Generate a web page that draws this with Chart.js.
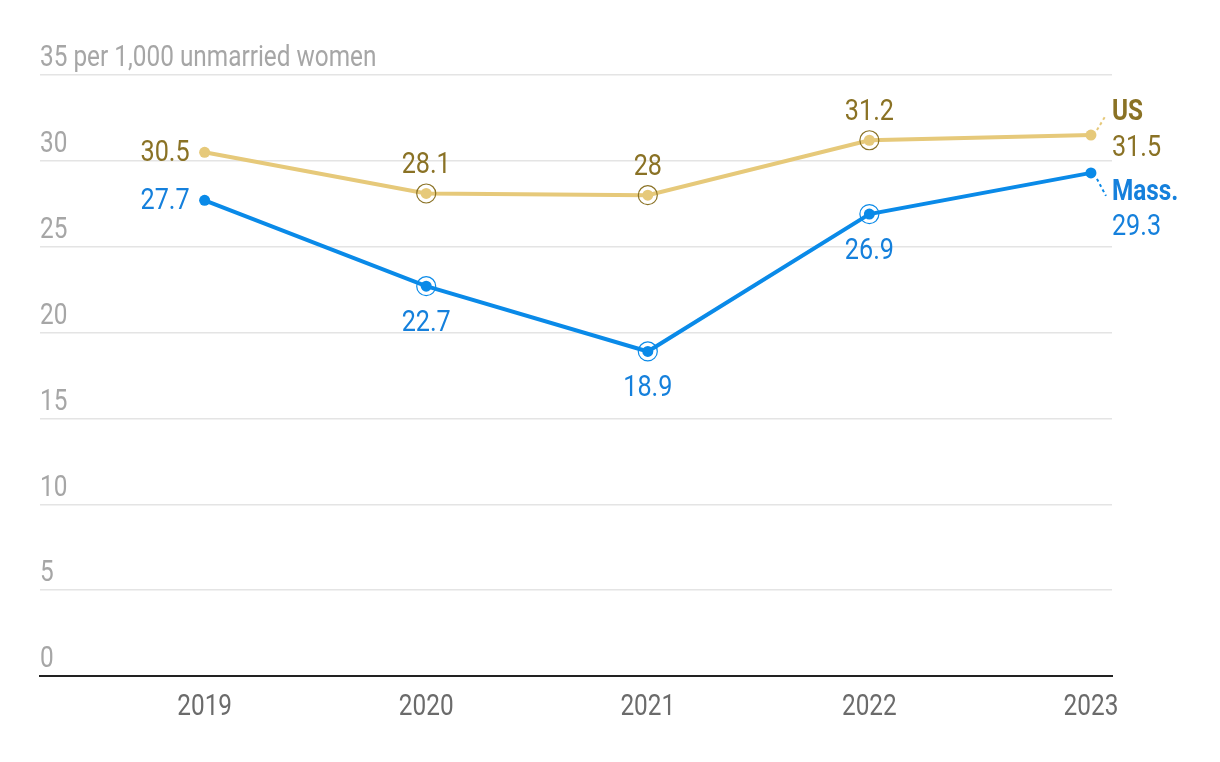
<!DOCTYPE html>
<html>
<head>
<meta charset="utf-8">
<script src="https://cdn.jsdelivr.net/npm/chart.js@4.4.1/dist/chart.umd.min.js"></script>
<style>
  html, body { margin: 0; padding: 0; background: #fff; }
  #wrap { width: 1220px; height: 762px; position: relative; }
</style>
</head>
<body>
<div id="wrap"><canvas id="chart"></canvas></div>
<script>
// datos
const years = [2019, 2020, 2021, 2022, 2023];
const usValues = [30.5, 28.1, 28, 31.2, 31.5];
const massValues = [27.7, 22.7, 18.9, 26.9, 29.3];
const yTicks = [0, 5, 10, 15, 20, 25, 30, 35];
const seriesNames = ['US', 'Mass.'];
const yTitle = 'per 1,000 unmarried women';

const FONT = "Roboto, 'Noto Sans', sans-serif";
const SX = 0.84; // estrechar el texto (fuente condensada en el original)
const US_LINE = '#e6c97a', US_TEXT = '#8a7225';
const MA_LINE = '#0a8ae8', MA_TEXT = '#1580dc';

const toPoints = vals => years.map((y, i) => ({ x: y, y: vals[i] }));
// solo los puntos intermedios llevan anillo
const ringPoints = vals => years.map((y, i) => ({ x: y, y: (i > 0 && i < years.length - 1) ? vals[i] : null }));

function drawText(ctx, txt, x, y, align, font, color) {
    ctx.save();
    ctx.font = font;
    ctx.fillStyle = color;
    ctx.textAlign = align;
    ctx.textBaseline = 'middle';
    ctx.translate(x, y);
    ctx.scale(SX, 1);
    ctx.fillText(txt, 0, 0);
    ctx.restore();
}

// etiquetas de los ejes, dibujadas con las escalas de Chart.js
const axisText = {
    id: 'axisText',
    afterDraw(chart) {
        const { ctx, chartArea, scales } = chart;
        scales.y.ticks.forEach(t => {
            const y = scales.y.getPixelForValue(t.value);
            const txt = t.value === 35 ? `35 ${yTitle}` : String(t.value);
            drawText(ctx, txt, chartArea.left, y - 16, 'left', `29px ${FONT}`, '#a6a6a6');
        });
        scales.x.ticks.forEach(t => {
            const x = scales.x.getPixelForValue(t.value);
            drawText(ctx, String(t.value), x, chartArea.bottom + 32, 'center', `29px ${FONT}`, '#6b6b6b');
        });
    }
};

const labelsPlugin = {
    id: 'labels',
    afterDatasetsDraw(chart) {
        const ctx = chart.ctx;
        const groups = [
            { ds: 0, vals: usValues, color: US_TEXT, line: US_LINE, name: seriesNames[0], up: true },
            { ds: 1, vals: massValues, color: MA_TEXT, line: MA_LINE, name: seriesNames[1], up: false }
        ];
        const f = `30px ${FONT}`;
        groups.forEach(g => {
            const pts = chart.getDatasetMeta(g.ds).data;
            pts.forEach((p, i) => {
                const txt = String(g.vals[i]);
                if (i === 0) {
                    drawText(ctx, txt, p.x - 15, p.y + 1, 'right', f, g.color);
                } else if (i === pts.length - 1) {
                    // línea guía punteada
                    ctx.save();
                    ctx.strokeStyle = g.line;
                    ctx.lineWidth = 2;
                    ctx.setLineDash([3, 3]);
                    ctx.beginPath();
                    ctx.moveTo(p.x + 6, p.y + (g.up ? -5 : 6));
                    ctx.lineTo(p.x + 15, p.y + (g.up ? -20 : 23));
                    ctx.stroke();
                    ctx.restore();
                    const nameY = g.up ? p.y - 22 : p.y + 20;
                    drawText(ctx, g.name, p.x + 21, nameY, 'left', `bold 29px ${FONT}`, g.color);
                    drawText(ctx, txt, p.x + 21, nameY + 35, 'left', f, g.color);
                } else {
                    drawText(ctx, txt, p.x, g.up ? p.y - 28 : p.y + 37, 'center', f, g.color);
                }
            });
        });
    }
};

new Chart(document.getElementById('chart'), {
    type: 'line',
    data: {
        datasets: [
            {
                label: seriesNames[0],
                data: toPoints(usValues),
                borderColor: US_LINE,
                backgroundColor: US_LINE,
                borderWidth: 4,
                pointRadius: 5.5,
                pointBorderWidth: 0,
                order: 1
            },
            {
                label: seriesNames[1],
                data: toPoints(massValues),
                borderColor: MA_LINE,
                backgroundColor: MA_LINE,
                borderWidth: 4,
                pointRadius: 5.5,
                pointBorderWidth: 0,
                order: 1
            },
            {
                data: ringPoints(usValues),
                showLine: false,
                pointRadius: 9.5,
                pointBorderWidth: 1.2,
                pointBorderColor: US_TEXT,
                pointBackgroundColor: 'rgba(0,0,0,0)',
                order: 0
            },
            {
                data: ringPoints(massValues),
                showLine: false,
                pointRadius: 9.5,
                pointBorderWidth: 1.2,
                pointBorderColor: MA_LINE,
                pointBackgroundColor: 'rgba(0,0,0,0)',
                order: 0
            }
        ]
    },
    options: {
        responsive: true,
        maintainAspectRatio: false,
        animation: false,
        layout: { padding: { left: 40, right: 108, top: 75, bottom: 0 } },
        plugins: {
            legend: { display: false },
            tooltip: { enabled: false }
        },
        scales: {
            x: {
                type: 'linear',
                min: 2018.257,
                max: 2023.095,
                afterBuildTicks: s => { s.ticks = years.map(v => ({ value: v })); },
                afterFit: s => { s.height = 86; },
                grid: { display: false },
                border: { display: true, color: '#222', width: 2 },
                ticks: { display: false }
            },
            y: {
                min: 0,
                max: 35,
                afterBuildTicks: s => { s.ticks = yTicks.map(v => ({ value: v })); },
                afterFit: s => { s.width = 0; },
                grid: { color: '#e4e4e4', lineWidth: 1.5, drawTicks: false },
                border: { display: false },
                ticks: { display: false }
            }
        }
    },
    plugins: [labelsPlugin, axisText]
});
</script>
</body>
</html>
